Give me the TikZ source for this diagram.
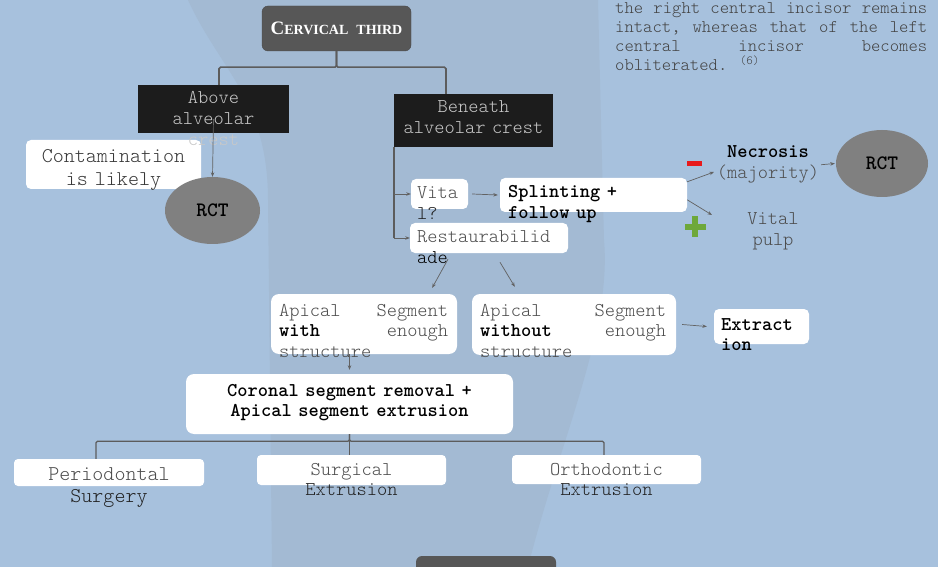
\documentclass[tikz,border=0pt]{standalone}
\usepackage{fontspec}
\usepackage{xcolor}
\usetikzlibrary{arrows.meta, shapes.geometric, positioning}
\setmainfont{lmmonolt10-regular.otf}[BoldFont=lmmonolt10-bold.otf]
\newfontfamily\capsserif{Liberation Serif}

\definecolor{slideblue}{HTML}{A7C1DD}
\definecolor{toothgrey}{HTML}{A3BAD3}
\definecolor{darkbox}{HTML}{1C1C1C}
\definecolor{titlebox}{HTML}{575757}
\definecolor{titleedge}{HTML}{4A4A4A}
\definecolor{rctgrey}{HTML}{808080}
\definecolor{txtgrey}{HTML}{4C4C4C}
\definecolor{txtdark}{HTML}{222222}
\definecolor{txtlight}{HTML}{C8C8C8}
\definecolor{linegrey}{HTML}{5C5C5C}
\definecolor{linkgrey}{HTML}{626262}
\definecolor{minusred}{HTML}{E8191B}
\definecolor{plusgreen}{HTML}{6EA83A}

\newcommand{\bodysize}{\fontsize{19.5}{20.75}\selectfont}
\newcommand{\bigsize}{\fontsize{21}{22.5}\selectfont}

\begin{document}
\begin{tikzpicture}[x=1pt, y=-1pt,
    whitebox/.style={rectangle, fill=white, rounded corners=5pt, inner sep=0pt},
    blackbox/.style={rectangle, fill=darkbox, inner sep=0pt},
    rctnode/.style={ellipse, fill=rctgrey, inner sep=0pt, minimum height=67pt, font=\fontsize{20.5}{20.5}\selectfont\bfseries, text=black},
    boxtext/.style={inner sep=0pt, font=\bodysize, text=txtgrey},
    tree/.style={draw=linegrey, line width=1.6pt, rounded corners=1.5pt},
    link/.style={draw=linkgrey, line width=0.7pt, -{Stealth[length=4.5pt,width=3.5pt]}}
]
\useasboundingbox (0,0) rectangle (938,567);

% slide background
\fill[slideblue] (0,0) rectangle (938,567);
\fill[toothgrey] (188,0) .. controls (220,70) and (268,100) .. (268,200)
  -- (272,567) -- (528,567) .. controls (560,440) and (612,330) .. (604,240) -- (598,0) -- cycle;

% title and next slide box
\node[fill=titlebox, draw=titleedge, rounded corners=6pt, minimum width=149pt, minimum height=45pt, text=white] (cervical) at (336.5,28.5)
  {\capsserif\bfseries{\fontsize{19}{19}\selectfont C}{\fontsize{14}{19}\selectfont ERVICAL\hspace{8pt}THIRD}};
\begin{scope}
  \clip (0,0) rectangle (938,567);
  \node[fill=titlebox, rounded corners=6pt, minimum width=140pt, minimum height=30pt] (nextbox) at (486,571) {};
\end{scope}

% boxes
\node[blackbox, minimum width=151pt, minimum height=48pt] (above) at (213.5,109) {};
\node[blackbox, minimum width=159pt, minimum height=53pt] (beneath) at (473.5,120.5) {};
\node[whitebox, minimum width=175pt, minimum height=49pt] (contam) at (113.5,164.5) {};
\node[rctnode, minimum width=95pt] (rctA) at (212.5,210.5) {RCT};
\node[whitebox, minimum width=57pt, minimum height=30pt] (vital) at (439.5,194) {};
\node[whitebox, minimum width=187pt, minimum height=34pt] (splint) at (593.5,195) {};
\node[whitebox, minimum width=158pt, minimum height=30pt] (restaur) at (489,238) {};
\node[whitebox, rounded corners=8pt, minimum width=186pt, minimum height=60pt] (apicalW) at (364,324) {};
\node[whitebox, rounded corners=8pt, minimum width=204pt, minimum height=61pt] (apicalWo) at (574,324.5) {};
\node[whitebox, minimum width=95pt, minimum height=35pt] (extract) at (761.5,326.5) {};
\node[whitebox, rounded corners=8pt, minimum width=327pt, minimum height=60pt] (coronal) at (349.5,404) {};
\node[whitebox, rounded corners=4pt, minimum width=190pt, minimum height=27pt] (perio) at (109,472.5) {};
\node[whitebox, rounded corners=4pt, minimum width=189pt, minimum height=30pt] (surg) at (351.5,470) {};
\node[whitebox, rounded corners=4pt, minimum width=189pt, minimum height=29pt] (ortho) at (606.5,469.5) {};
\node[rctnode, minimum width=92pt] (rctB) at (882,163.5) {RCT};

% texts
\node[boxtext, text=txtlight, text width=150pt, align=center, anchor=base] (abovetxt) at (213.5,104) {Above\\alveolar\\crest};
\node[boxtext, text=txtlight, text width=158pt, align=center, anchor=base] (beneathtxt) at (473.5,113) {Beneath\\alveolar crest};
\node[boxtext, font=\bigsize, text=txtdark!90, text width=175pt, align=center, anchor=base] (contamtxt) at (113.5,163) {Contamination\\is likely};
\node[boxtext, text width=60pt, align=left, anchor=base west] (vitaltxt) at (417,199) {Vita\\{\color{txtdark}l?}};
\node[boxtext, text=black, font=\bodysize\bfseries, text width=180pt, align=left, anchor=base west] (splinttxt) at (508,198) {Splinting +\\follow up};
\node[boxtext, text width=150pt, align=left, anchor=base west] (restaurtxt) at (417,243) {Restaurabilid\\{\color{black}ade}};
\node[boxtext, text width=169pt, align=justify, anchor=base west] (apicalWtxt) at (279,316)
  {Apical\hfill Segment\\{\color{black}\bfseries with}\hfill enough\\structure};
\node[boxtext, text width=186pt, align=justify, anchor=base west] (apicalWotxt) at (480,316)
  {Apical\hfill Segment\\{\color{black}\bfseries without}\hfill enough\\structure};
\node[boxtext, text=black, font=\bodysize\bfseries, text width=90pt, align=left, anchor=base west] (extracttxt) at (721,330) {Extract\\ion};
\node[boxtext, text=black, font=\bodysize\bfseries, text width=320pt, align=center, anchor=base] (coronaltxt) at (349.5,396) {Coronal segment removal +\\Apical segment extrusion};
\node[boxtext, font=\bigsize, text width=190pt, align=center, anchor=base] (periotxt) at (109,480) {Periodontal\\{\color{txtdark}Surgery}};
\node[boxtext, text width=189pt, align=center, anchor=base] (surgtxt) at (351.5,475) {Surgical\\{\color{txtdark}Extrusion}};
\node[boxtext, text width=189pt, align=center, anchor=base] (orthotxt) at (606.5,475) {Orthodontic\\{\color{txtdark}Extrusion}};
\node[boxtext, text=txtdark!80, text width=110pt, align=center, anchor=base] (necro) at (768,158) {{\color{black}\bfseries Necrosis}\\(majority)};
\node[boxtext, text width=70pt, align=center, anchor=base] (vpulp) at (773,225) {Vital\\pulp};
\node[boxtext, font=\fontsize{17.8}{19}\selectfont, text=txtdark!85, text width=312pt, align=justify, anchor=base west] (quote) at (615,14)
  {the\hfill right\hfill central\hfill incisor\hfill remains\\intact,\hfill whereas\hfill that\hfill of\hfill the\hfill left\\central\hfill incisor\hfill becomes\\obliterated. \textsuperscript{(6)}};

% minus and plus marks
\fill[minusred] (687,161) rectangle (702,166);
\fill[plusgreen] (692,216) rectangle (698,237);
\fill[plusgreen] (685,224) rectangle (706,230);

% tree connectors
\draw[tree] (cervical.south) -- ++(0,16) -| ([xshift=5.5pt]above.north);
\draw[tree] (cervical.south) -- ++(0,16) -| ([xshift=-27.5pt]beneath.north);
\draw[tree, line width=1.8pt, rounded corners=0pt] (beneath.south west) -- (beneath.south west |- restaur.west);
\draw[tree, line width=1.3pt] (coronal.south) -- ++(0,7) -| ([xshift=-13pt]perio.north);
\draw[tree, line width=1.3pt] (coronal.south) -- ++(0,7) -| ([xshift=-2.5pt]ortho.north);
\draw[tree, line width=1.3pt] (coronal.south) -- (coronal.south |- surg.north);

% arrows
\coordinate (necroin) at (714,172);
\coordinate (pulpin) at (712,215);
\draw[link] ([yshift=-10pt]above.center) -- (rctA.north);
\draw[link] (beneath.south west |- vital.west) -- (vital.west);
\draw[link] (beneath.south west |- restaur.west) -- (restaur.west);
\draw[link] ([xshift=4pt]vital.east) -- ([xshift=-2pt]splint.west);
\draw[link] ([yshift=-4pt]splint.north east) -- (necroin);
\draw[link] ([yshift=-22pt]splint.north east) -- (pulpin);
\draw[link] ([xshift=-2pt]necro.east) -- ([xshift=-1pt]rctB.west);
\draw[link] ([shift={(-41pt,-6pt)}]restaur.south) -- ([shift={(-25pt,6pt)}]apicalW.north east);
\draw[link] ([shift={(11pt,-9pt)}]restaur.south) -- ([shift={(43pt,7pt)}]apicalWo.north west);
\draw[link] ([xshift=6pt]apicalWo.east) -- ([xshift=-7pt]extract.west);
\draw[link] (apicalW.south -| coronal.north) -- ([yshift=4pt]coronal.north);

\end{tikzpicture}
\end{document}
